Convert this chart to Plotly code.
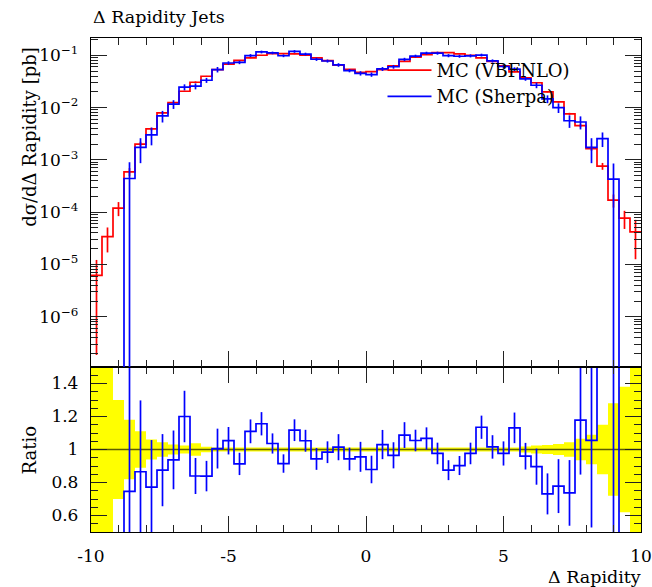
import plotly.graph_objects as go

# ---------------- data ----------------
bin_edges = [round(-10 + 0.4 * i, 1) for i in range(51)]

vbfnlo = [6.2e-6, 3.4e-5, 1.2e-4, 5.9e-4, 2.0e-3, 3.9e-3, 7.9e-3, 1.24e-2, 2.05e-2, 3.05e-2,
          3.97e-2, 5.3e-2, 6.75e-2, 8.0e-2, 8.9e-2, 0.100, 0.107, 0.107, 0.106, 0.100,
          0.089, 0.079, 0.0645, 0.054, 0.0473, 0.0487, 0.0532, 0.0625, 0.0767, 0.0916,
          0.103, 0.1125, 0.1125, 0.106, 0.100, 0.0889, 0.0767, 0.0625, 0.048, 0.037,
          0.0298, 0.020, 0.0128, 0.0076, 0.0045, 1.64e-3, 7.6e-4, 1.7e-4, 7.7e-5, 4.2e-5]

vbfnlo_relerr = [0.97, 0.5, 0.3, 0.18, 0.11, 0.06, 0.044, 0.03, 0.024, 0.038,
                 0.016, 0.012, 0.012, 0.012, 0.012, 0.012, 0.012, 0.012, 0.012, 0.012,
                 0.012, 0.012, 0.012, 0.012, 0.012, 0.012, 0.012, 0.012, 0.012, 0.012,
                 0.012, 0.012, 0.012, 0.012, 0.012, 0.012, 0.012, 0.012, 0.012, 0.018,
                 0.024, 0.028, 0.034, 0.044, 0.065, 0.09, 0.15, 0.28, 0.38, 0.7]

sherpa = [0.0, 0.0, 0.0, 4.4e-4, 1.73e-3, 3.01e-3, 6.91e-3, 1.162e-2, 2.46e-2, 2.56e-2,
          3.33e-2, 5.33e-2, 0.0711, 0.0730, 0.0988, 0.1156, 0.1109, 0.0979, 0.1184, 0.1053,
          0.0839, 0.0777, 0.0654, 0.0509, 0.0452, 0.0428, 0.0548, 0.0603, 0.0834, 0.0966,
          0.1099, 0.1098, 0.0984, 0.0957, 0.0976, 0.1009, 0.0779, 0.0610, 0.0543, 0.0355,
          0.0267, 0.01462, 0.00996, 0.0056, 0.0053, 1.73e-3, 2.55e-3, 4.27e-4, 0.0, 0.0]

sherpa_relerr = [0, 0, 0, 1.05, 0.50, 0.37, 0.25, 0.19, 0.13, 0.13,
                 0.11, 0.12, 0.079, 0.074, 0.065, 0.061, 0.059, 0.061, 0.059, 0.063,
                 0.07, 0.067, 0.078, 0.073, 0.095, 0.095, 0.086, 0.082, 0.072, 0.062,
                 0.063, 0.067, 0.069, 0.064, 0.067, 0.062, 0.07, 0.075, 0.082, 0.084,
                 0.122, 0.17, 0.21, 0.27, 0.28, 0.50, 0.31, 1.0, 0, 0]

x_ticks = [-10, -5, 0, 5, 10]
x_ticktext = ["-10", "-5", "0", "5", "10"]
logy_ticks = [1e-6, 1e-5, 1e-4, 1e-3, 1e-2, 1e-1]
logy_ticktext = ["10<sup>\u22126</sup>", "10<sup>\u22125</sup>", "10<sup>\u22124</sup>",
                 "10<sup>\u22123</sup>", "10<sup>\u22122</sup>", "10<sup>\u22121</sup>"]
ratio_ticks = [0.6, 0.8, 1.0, 1.2, 1.4]
ratio_ticktext = ["0.6", "0.8", "1", "1.2", "1.4"]

# ---------------- derived ----------------
centers = [(bin_edges[i] + bin_edges[i + 1]) / 2 for i in range(50)]
TINY = 1e-15


def step(vals):
    return list(bin_edges), list(vals) + [vals[-1]]


RED = "#ff0000"
BLUE = "#0000ff"
FONT = "DejaVu Serif"
LW = 1.7
HIDDEN = dict(size=2, opacity=0)

fig = go.Figure()

# ---- main panel ----
xs, ys = step(vbfnlo)
fig.add_trace(go.Scatter(x=xs, y=ys, mode="lines", line=dict(color=RED, width=LW, shape="hv"),
                         name="MC (VBFNLO)", xaxis="x2", yaxis="y2"))
sh_plot = [v if v > 0 else TINY for v in sherpa]
xs, ys = step(sh_plot)
fig.add_trace(go.Scatter(x=xs, y=ys, mode="lines", line=dict(color=BLUE, width=LW, shape="hv"),
                         name="MC (Sherpa)", xaxis="x2", yaxis="y2"))

# error bars main panel
r_up = [v * e for v, e in zip(vbfnlo, vbfnlo_relerr)]
r_dn = [min(v * e, v * (1 - 1e-9)) for v, e in zip(vbfnlo, vbfnlo_relerr)]
fig.add_trace(go.Scatter(x=centers, y=vbfnlo, mode="markers", marker=HIDDEN,
                         error_y=dict(type="data", array=r_up, arrayminus=r_dn, width=0,
                                      thickness=LW, color=RED),
                         showlegend=False, xaxis="x2", yaxis="y2", hoverinfo="skip"))
s_x = [c for c, v in zip(centers, sherpa) if v > 0]
s_y = [v for v in sherpa if v > 0]
s_up = [v * e for v, e in zip(sherpa, sherpa_relerr) if v > 0]
s_dn = [min(v * e, v * (1 - 1e-9)) for v, e in zip(sherpa, sherpa_relerr) if v > 0]
fig.add_trace(go.Scatter(x=s_x, y=s_y, mode="markers", marker=HIDDEN,
                         error_y=dict(type="data", array=s_up, arrayminus=s_dn, width=0,
                                      thickness=LW, color=BLUE),
                         showlegend=False, xaxis="x2", yaxis="y2", hoverinfo="skip"))

# ---- ratio panel ----
band_lo = [1 - e for e in vbfnlo_relerr]
band_hi = [1 + e for e in vbfnlo_relerr]
xs, ys = step(band_lo)
fig.add_trace(go.Scatter(x=xs, y=ys, mode="lines", line=dict(width=0, shape="hv", color="#ffff00"),
                         showlegend=False, xaxis="x", yaxis="y", hoverinfo="skip"))
xs, ys = step(band_hi)
fig.add_trace(go.Scatter(x=xs, y=ys, mode="lines", line=dict(width=0, shape="hv", color="#ffff00"),
                         fill="tonexty", fillcolor="#ffff00",
                         showlegend=False, xaxis="x", yaxis="y", hoverinfo="skip"))
ref_ratio = [v / v for v in vbfnlo]
xs, ys = step(ref_ratio)
fig.add_trace(go.Scatter(x=xs, y=ys, mode="lines", line=dict(width=1.6, shape="hv", color="rgba(40,40,0,0.75)"),
                         showlegend=False, xaxis="x", yaxis="y", hoverinfo="skip"))
ratio = [s / v for s, v in zip(sherpa, vbfnlo)]
xs, ys = step(ratio)
fig.add_trace(go.Scatter(x=xs, y=ys, mode="lines", line=dict(width=LW, shape="hv", color=BLUE),
                         showlegend=False, xaxis="x", yaxis="y", hoverinfo="skip"))
q_x = [c for c, s in zip(centers, sherpa) if s > 0]
q_y = [s / v for s, v in zip(sherpa, vbfnlo) if s > 0]
q_e = [s * e / v for s, v, e in zip(sherpa, vbfnlo, sherpa_relerr) if s > 0]
fig.add_trace(go.Scatter(x=q_x, y=q_y, mode="markers", marker=HIDDEN,
                         error_y=dict(type="data", array=q_e, width=0, thickness=LW, color=BLUE),
                         showlegend=False, xaxis="x", yaxis="y", hoverinfo="skip"))

RATIO_TOP = 0.334
tickfont = dict(family=FONT, size=17, color="black")
common_x = dict(range=[-10, 10], tickmode="array", tickvals=x_ticks, ticks="inside", ticklen=16,
                tickwidth=1.2, tickcolor="#222", showline=True, linecolor="black", linewidth=1.3,
                mirror="ticks", showgrid=False, zeroline=False, automargin=False,
                minor=dict(dtick=1, tick0=0, ticks="inside", ticklen=7, tickwidth=1.2, tickcolor="#222"))

fig.update_layout(
    width=652, height=587,
    margin=dict(l=91, r=11, t=38, b=55, autoexpand=False),
    paper_bgcolor="white", plot_bgcolor="white",
    font=dict(family=FONT, size=17, color="black"),
    xaxis=dict(**common_x, anchor="y", domain=[0, 1], ticktext=x_ticktext, tickfont=tickfont,
               ticklabelstandoff=8),
    xaxis2=dict(**common_x, anchor="y2", domain=[0, 1], matches="x", showticklabels=False),
    yaxis=dict(domain=[0, RATIO_TOP], range=[0.5, 1.5], tickmode="array", tickvals=ratio_ticks,
               ticktext=ratio_ticktext, tickfont=tickfont, ticks="inside", ticklen=16, tickwidth=1.2,
               tickcolor="#222", showline=True, linecolor="black", linewidth=1.3, mirror="ticks",
               showgrid=False, zeroline=False, ticklabelstandoff=8, automargin=False,
               minor=dict(dtick=0.05, tick0=0.5, ticks="inside", ticklen=7, tickwidth=1.2, tickcolor="#222")),
    yaxis2=dict(domain=[RATIO_TOP, 1], type="log", range=[-6.96, -0.67], tickmode="array",
                tickvals=logy_ticks, ticktext=logy_ticktext, tickfont=tickfont, ticks="inside",
                ticklen=16, tickwidth=1.2, tickcolor="#222", showline=True, linecolor="black",
                linewidth=1.3, mirror="ticks", showgrid=False, zeroline=False, ticklabelstandoff=8,
                automargin=False,
                minor=dict(tickmode="array",
                           tickvals=[k * 10.0 ** p for p in range(-7, 0) for k in range(2, 10)],
                           ticks="inside", ticklen=7, tickwidth=1.2, tickcolor="#222")),
    legend=dict(x=0.53, y=0.972, xanchor="left", yanchor="top", bgcolor="rgba(0,0,0,0)",
                font=dict(family=FONT, size=18), itemwidth=44, tracegroupgap=0,
                traceorder="normal"),
    showlegend=True,
)

fig.add_annotation(text="\u0394 Rapidity Jets", xref="paper", yref="paper", x=0, y=1.043,
                   xanchor="left", yanchor="middle", showarrow=False, font=dict(family=FONT, size=17.5))
fig.add_annotation(text="d\u03c3/d\u0394 Rapidity [pb]", xref="paper", yref="paper", x=-0.111, y=0.986,
                   xanchor="center", yanchor="top", textangle=-90, showarrow=False,
                   font=dict(family=FONT, size=18))
fig.add_annotation(text="Ratio", xref="paper", yref="paper", x=-0.111, y=RATIO_TOP / 2,
                   xanchor="center", yanchor="middle", textangle=-90, showarrow=False,
                   font=dict(family=FONT, size=18))
fig.add_annotation(text="\u0394 Rapidity", xref="paper", yref="paper", x=1.003, y=-0.091,
                   xanchor="right", yanchor="middle", showarrow=False, font=dict(family=FONT, size=17.5))

# remove the browser's default 8px page margin so the 652x587 figure fills the window exactly
fig.write_html("out.html", config={"displayModeBar": False},
               post_script="document.body.style.margin='0';document.body.style.overflow='hidden';")
